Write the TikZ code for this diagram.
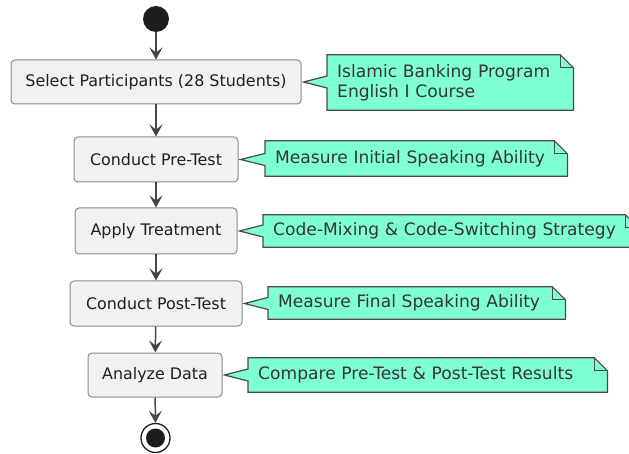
\documentclass[tikz,border=0pt]{standalone}
\usepackage{fontspec}
\setmainfont{DejaVu Sans}
\usetikzlibrary{arrows.meta,calc}

\definecolor{boxfill}{HTML}{F1F1F1}
\definecolor{boxline}{HTML}{8A8A8A}
\definecolor{notefill}{HTML}{7FFFD4}
\definecolor{noteline}{HTML}{4A4A4A}
\definecolor{flowline}{HTML}{454545}
\definecolor{ink}{HTML}{1E1E1E}

\pgfdeclarelayer{background}
\pgfsetlayers{background,main}

\tikzset{
  actbox/.style={draw=boxline, line width=1pt, fill=boxfill, rounded corners=4pt,
    text=ink, font=\fontsize{15.9}{19}\selectfont, inner sep=0pt},
  notetext/.style={anchor=west, inner xsep=10pt, inner ysep=0pt, align=left,
    text=ink!90, font=\fontsize{17.1}{20}\selectfont},
  noteshape/.style={draw=noteline, line width=1.2pt, fill=notefill, line join=miter},
  foldline/.style={draw=noteline, line width=1.2pt},
  flow/.style={draw=flowline, line width=1.5pt,
    -{Stealth[length=12pt, width=13pt, inset=5pt]}},
}

% Callout outline behind a note node, pointing at the box on its left
\newcommand\notecallout[2]{%
  \coordinate (#1tip) at ([xshift=2pt]#2.east);
  \begin{pgfonlayer}{background}
  \path[noteshape] (#1.north west) -- ([xshift=-13pt]#1.north east)
    -- ([yshift=-13pt]#1.north east) -- (#1.south east) -- (#1.south west)
    -- ($(#1.west |- #1tip)+(0,6)$) -- (#1tip) -- ($(#1.west |- #1tip)+(0,-6)$)
    -- cycle;
  \draw[foldline] ([xshift=-13pt]#1.north east) -- ++(0,13) -- ++(13,0);
  \end{pgfonlayer}}

\begin{document}
\begin{tikzpicture}[x=1pt, y=-1pt]
  \useasboundingbox (0,0) rectangle (629,454);

  % start and end markers
  \node[circle, fill=ink, minimum size=26pt, inner sep=0pt] (start) at (156,19) {};
  \node[circle, draw=ink, line width=1.3pt, fill=white, minimum size=29pt, inner sep=0pt] (stop) at (155.5,438) {};
  \node[circle, fill=ink, minimum size=19pt, inner sep=0pt] (stopdot) at (stop.center) {};

  % activities
  \node[actbox, minimum width=290pt, minimum height=44pt] (b1) at (156,82) {Select Participants (28 Students)};
  \node[actbox, minimum width=164pt, minimum height=45pt] (b2) at (156,159.5) {Conduct Pre-Test};
  \node[actbox, minimum width=162pt, minimum height=46pt] (b3) at (156,231) {Apply Treatment};
  \node[actbox, minimum width=172pt, minimum height=45pt] (b4) at (156,303.5) {Conduct Post-Test};
  \node[actbox, minimum width=134pt, minimum height=44pt] (b5) at (155,375) {Analyze Data};

  % notes
  \node[notetext, text width=226pt, minimum height=55pt] (n1) at (327,82.5) {Islamic Banking Program\\English I Course};
  \node[notetext, text width=282pt, minimum height=35pt] (n2) at (265,158.5) {Measure Initial Speaking Ability};
  \node[notetext, text width=355pt, minimum height=32pt] (n3) at (263,231) {Code-Mixing \& Code-Switching Strategy};
  \node[notetext, text width=277pt, minimum height=32pt] (n4) at (268,303) {Measure Final Speaking Ability};
  \node[notetext, text width=339pt, minimum height=34pt] (n5) at (248,375) {Compare Pre-Test \& Post-Test Results};

  \notecallout{n1}{b1}
  \notecallout{n2}{b2}
  \notecallout{n3}{b3}
  \notecallout{n4}{b4}
  \notecallout{n5}{b5}

  % control flow
  \draw[flow] (start) -- (b1);
  \draw[flow] (b1) -- (b2);
  \draw[flow] (b2) -- (b3);
  \draw[flow] (b3) -- (b4);
  \draw[flow] (b4) -- (b5);
  \draw[flow] (b5) -- (stop);
\end{tikzpicture}
\end{document}
